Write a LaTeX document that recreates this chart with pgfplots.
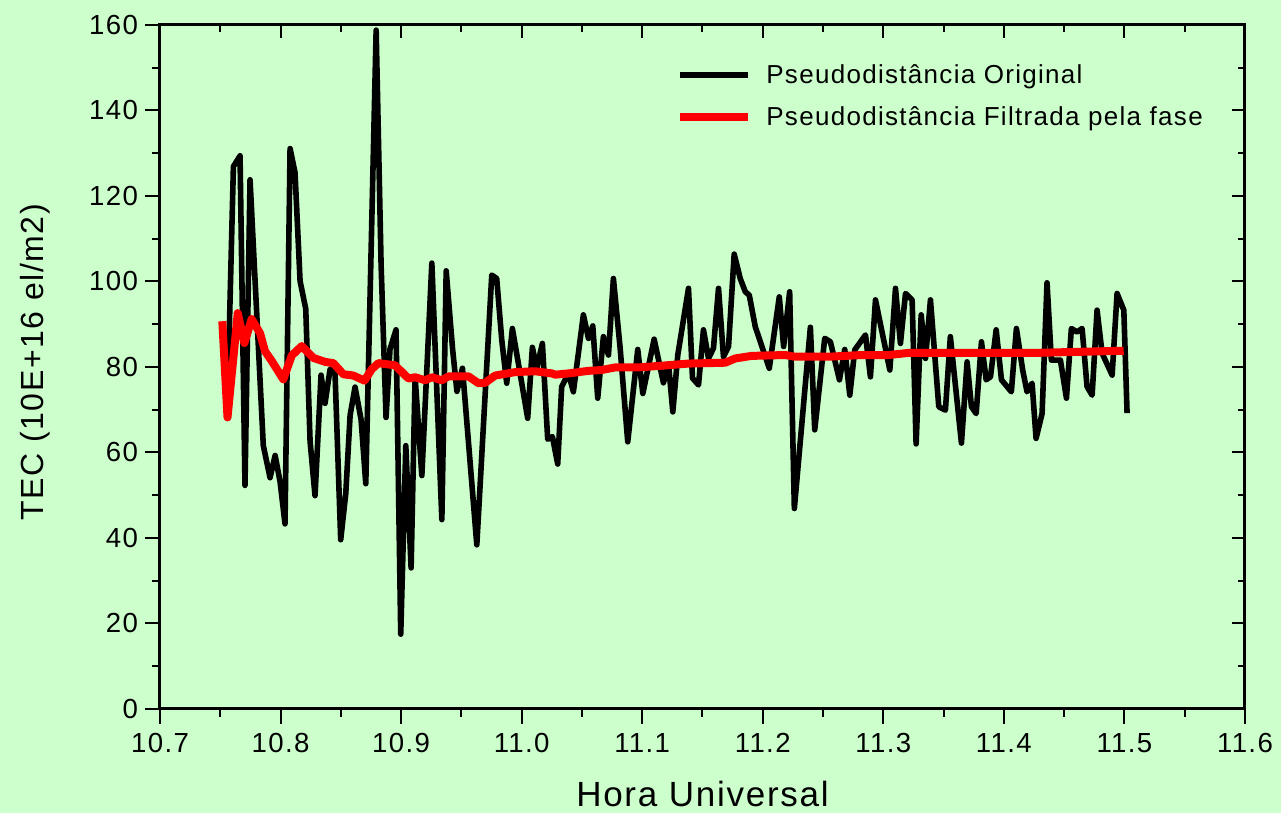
\documentclass[border=0pt]{standalone}
\usepackage{fontspec}
\setmainfont{Liberation Sans}[LetterSpace=5]
\usepackage{pgfplots}
\pgfplotsset{compat=1.18}
\usepackage{pgfplotstable}
\definecolor{bggreen}{RGB}{204,255,204}

\pgfplotstableread{
x y
10.7560 72.0
10.7609 126.9
10.7664 129.4
10.7705 52.3
10.7747 123.8
10.7857 61.6
10.7913 54.1
10.7955 59.3
10.7996 53.2
10.8037 43.3
10.8079 131.1
10.8120 125.5
10.8162 100.1
10.8209 93.6
10.8245 62.6
10.8286 49.9
10.8336 78.1
10.8369 71.5
10.8411 79.5
10.8452 78.5
10.8499 39.6
10.8541 50.4
10.8577 68.7
10.8618 75.3
10.8668 67.7
10.8707 52.7
10.8793 158.8
10.8834 104.0
10.8875 68.2
10.8908 84.2
10.8958 88.7
10.8997 17.5
10.9039 61.6
10.9083 33.0
10.9116 77.7
10.9172 54.6
10.9255 104.3
10.9338 44.3
10.9374 102.5
10.9427 84.2
10.9463 74.3
10.9509 79.7
10.9628 38.4
10.9752 101.5
10.9793 100.7
10.9835 86.3
10.9876 76.2
10.9923 89.0
10.9987 78.5
11.0050 68.0
11.0089 84.6
11.0125 79.7
11.0172 85.5
11.0216 63.1
11.0255 63.7
11.0299 57.3
11.0332 75.4
11.0388 78.5
11.0429 74.2
11.0512 92.2
11.0554 86.7
11.0590 89.6
11.0631 72.7
11.0678 87.1
11.0720 82.8
11.0761 100.7
11.0817 84.4
11.0880 62.5
11.0963 84.1
11.1005 73.8
11.1099 86.5
11.1176 76.3
11.1218 80.7
11.1254 69.5
11.1295 82.8
11.1384 98.4
11.1417 77.4
11.1467 75.8
11.1508 88.7
11.1550 82.0
11.1591 84.4
11.1633 98.4
11.1674 82.4
11.1716 84.8
11.1763 106.4
11.1813 100.7
11.1855 97.6
11.1888 96.8
11.1938 89.4
11.2054 79.7
11.2137 96.4
11.2173 84.8
11.2223 97.6
11.2262 46.9
11.2395 89.3
11.2431 65.3
11.2514 86.7
11.2561 85.9
11.2636 77.0
11.2680 84.1
11.2722 73.4
11.2763 84.0
11.2852 87.5
11.2893 77.7
11.2935 95.7
11.3054 79.3
11.3101 98.4
11.3142 85.5
11.3184 97.2
11.3239 95.7
11.3272 62.0
11.3314 92.2
11.3350 82.0
11.3391 95.7
11.3460 70.7
11.3515 69.9
11.3556 87.1
11.3648 62.2
11.3695 81.2
11.3731 70.7
11.3770 69.1
11.3814 85.9
11.3853 77.0
11.3889 77.7
11.3936 88.7
11.3980 77.0
11.4062 74.2
11.4104 89.0
11.4156 79.3
11.4192 74.2
11.4234 76.2
11.4267 63.3
11.4317 69.1
11.4358 99.7
11.4394 81.6
11.4469 81.6
11.4519 72.7
11.4560 89.0
11.4607 88.2
11.4649 89.0
11.4690 75.4
11.4732 73.4
11.4773 93.3
11.4815 83.2
11.4898 78.1
11.4939 97.2
11.4995 93.3
11.5022 69.2
}\original

\pgfplotstableread{
x y
10.7517 90.7
10.7560 68.2
10.7645 92.6
10.7700 85.6
10.7760 91.2
10.7830 87.9
10.7871 83.7
10.7927 81.4
10.8023 77.1
10.8093 82.7
10.8176 84.9
10.8273 82.1
10.8369 81.2
10.8438 80.9
10.8521 78.3
10.8604 78.0
10.8696 76.8
10.8757 79.5
10.8812 80.9
10.8950 80.4
10.9061 77.3
10.9116 77.6
10.9199 76.9
10.9255 77.6
10.9338 76.9
10.9393 77.8
10.9490 77.8
10.9559 77.8
10.9642 76.2
10.9697 76.3
10.9780 78.0
10.9946 78.8
11.0112 79.0
11.0250 78.5
11.0278 78.2
11.0389 78.5
11.0555 79.1
11.0665 79.3
11.0776 79.9
11.0969 79.9
11.1163 80.3
11.1384 80.8
11.1689 81.0
11.1772 82.0
11.1909 82.6
11.2186 82.8
11.2269 82.4
11.2546 82.4
11.2822 82.8
11.3044 82.8
11.3210 83.3
11.3473 83.3
11.4261 83.3
11.4994 83.8
}\filtered

\begin{document}
\begin{tikzpicture}
\fill[bggreen] (-80pt,-52pt) rectangle (560.5pt,354.5pt);
\path[use as bounding box] (-80pt,-52pt) rectangle (560.5pt,354.5pt);
\begin{axis}[
  at={(0pt,0pt)}, anchor=south west,
  scale only axis, width=542.5pt, height=342pt,
  xmin=10.7, xmax=11.6, ymin=0, ymax=160,
  xtick={10.7,10.8,10.9,11.0,11.1,11.2,11.3,11.4,11.5,11.6},
  ytick={0,20,40,60,80,100,120,140,160},
  minor x tick num=1, minor y tick num=1,
  xtick pos=left, ytick pos=left,
  tick align=outside,
  major tick length=7.5pt, minor tick length=4pt,
  axis line style={line width=1.5pt},
  tick style={black, line width=1pt},
  axis background/.style={fill=bggreen},
  ticklabel style={font=\fontsize{13.8}{16}\selectfont},
  /pgf/number format/assume math mode=true,
  xticklabel style={yshift=-1pt, /pgf/number format/.cd, fixed, fixed zerofill, precision=1},
  yticklabel style={/pgf/number format/.cd, fixed, precision=0},
  xlabel={Hora Universal},
  ylabel={TEC (10E+16 el/m2)},
  xlabel style={at={(axis description cs:0.5,-0.105)}, anchor=north, inner sep=0pt, font=\fontsize{17.5}{20}\selectfont},
  ylabel style={at={(axis description cs:-0.1152,0.507)}, anchor=center, font=\fontsize{16}{19}\selectfont},
  legend style={at={(0.47,0.955)}, anchor=north west, draw=none, fill=none,
    font=\fontsize{13}{15}\selectfont, row sep=6pt,
    /tikz/every even column/.append style={column sep=8pt}},
  legend cell align=left,
  legend image code/.code={\draw[#1] (0pt,0pt) -- (34pt,0pt);},
]
\addplot[black, line width=2.8pt, line join=round] table {\original};
\addlegendentry{\hspace{5pt}Pseudodistância Original}
\addplot[red, line width=4pt, line join=round] table {\filtered};
\addlegendentry{\hspace{5pt}Pseudodistância Filtrada pela fase}
\end{axis}
\begin{axis}[
  at={(0pt,0pt)}, anchor=south west,
  scale only axis, width=542.5pt, height=342pt,
  xmin=10.7, xmax=11.6, ymin=0, ymax=160,
  xtick={10.7,10.8,10.9,11.0,11.1,11.2,11.3,11.4,11.5,11.6},
  ytick={0,20,40,60,80,100,120,140,160},
  minor x tick num=1, minor y tick num=1,
  xtick pos=right, ytick pos=right,
  tick align=inside,
  major tick length=6.5pt, minor tick length=3.5pt,
  axis line style={line width=1.5pt},
  tick style={black, line width=1pt},
  xticklabels={}, yticklabels={},
]
\end{axis}
\end{tikzpicture}
\end{document}
